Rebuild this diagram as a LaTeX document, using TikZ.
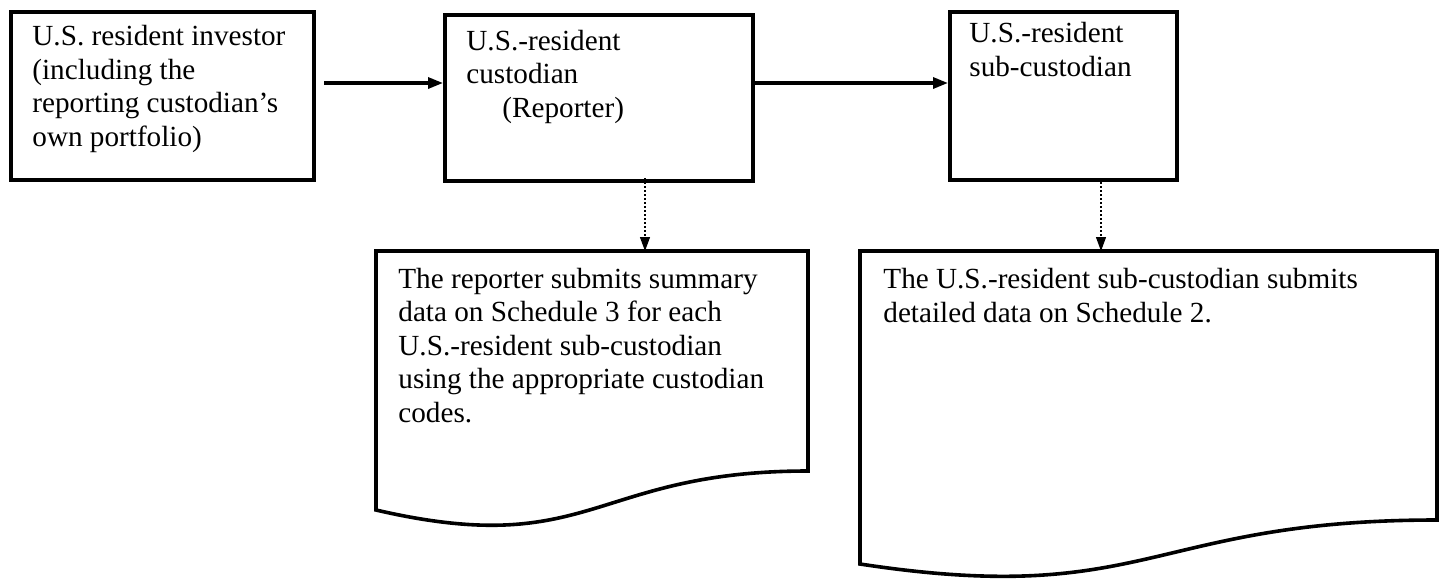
\documentclass[tikz,border=0pt]{standalone}
\usepackage{fontspec}
\setmainfont{Liberation Serif}
\usetikzlibrary{arrows.meta}
\begin{document}
\begin{tikzpicture}[x=0.5pt,y=-0.5pt,
  box/.style={draw, line width=2pt, minimum width=#1, inner sep=0pt},
  doc/.style={draw, line width=1.8pt},
  txt/.style={anchor=base west, align=left, inner sep=0pt,
    font=\fontsize{14.6pt}{16.7pt}\selectfont},
  solidarrow/.style={line width=1.6pt, -{Triangle[length=7.5pt,width=5.5pt]}},
  dotarrow/.style={line width=0.6pt, dash pattern=on 1pt off 1pt, -{Triangle[length=7pt,width=5pt]}}
]
\useasboundingbox (0,0) rectangle (1446,579);

% top boxes
\node[box=151.5pt, minimum height=84pt] (b1) at (162.5,96) {};
\node[box=154pt, minimum height=83pt] (b2) at (599,98) {};
\node[box=113.5pt, minimum height=84pt] (b3) at (1063.5,96) {};

% text nodes anchored at the baseline of their last line
\node[txt] (t1) at (32,146) {U.S. resident investor\\(including the\\reporting custodian’s\\own portfolio)};
\node[txt] (t2) at (466,117) {U.S.-resident\\custodian\\\hspace*{18pt}(Reporter)};
\node[txt] (t3) at (969,76) {U.S.-resident\\sub-custodian};

% document shapes
\draw[doc] (376,251) -- (808,251) -- (808,471)
  .. controls (592,471) and (592,560) .. (376,510) -- cycle;
\draw[doc] (860,251) -- (1437,251) -- (1437,520)
  .. controls (1148.5,520) and (1148.5,608) .. (860,564) -- cycle;
\coordinate (d1) at (645,251);
\coordinate (d2) at (1101,251);

\node[txt] (t4) at (398,422) {The reporter submits summary\\data on Schedule 3 for each\\U.S.-resident sub-custodian\\using the appropriate custodian\\codes.};
\node[txt] (t5) at (883,322) {The U.S.-resident sub-custodian submits\\detailed data on Schedule 2.};

% connectors
\coordinate (a1) at (324,83);
\draw[solidarrow] (a1) -- (b2.west |- a1);
\draw[solidarrow] (b2.east |- a1) -- (b3.west |- a1);
\coordinate (s1) at (645,178);
\coordinate (s2) at (1101,178);
\draw[dotarrow] (s1) -- (d1);
\draw[dotarrow] (s2) -- (d2);
\end{tikzpicture}
\end{document}
